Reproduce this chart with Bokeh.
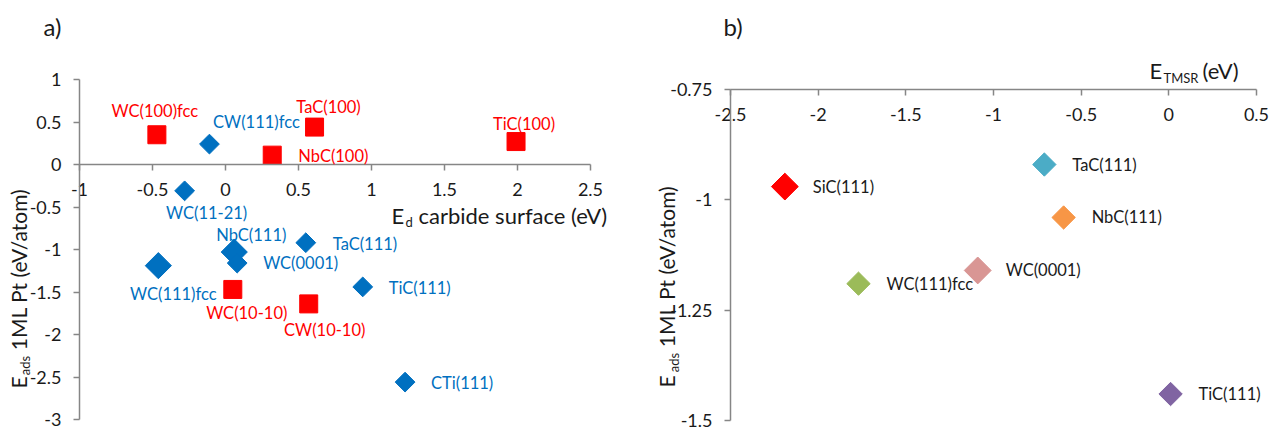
import math
from bokeh.plotting import figure
from bokeh.models import Range1d, LinearAxis, FixedTicker, ColumnDataSource, LabelSet, Label
from bokeh.layouts import row
from bokeh.core.properties import value
from bokeh.embed import file_html
from bokeh.resources import INLINE

# ---------------- data : panel a ----------------
a_sq_names = ["WC(100)fcc", "NbC(100)", "TaC(100)", "TiC(100)", "WC(10-10)", "CW(10-10)"]
a_sq_ed = [-0.47, 0.32, 0.61, 1.99, 0.05, 0.57]
a_sq_eads = [0.35, 0.11, 0.44, 0.27, -1.47, -1.64]

a_dia_names = ["CW(111)fcc", "WC(11-21)", "NbC(111)", "WC(0001)", "WC(111)fcc", "TaC(111)", "TiC(111)", "CTi(111)"]
a_dia_ed = [-0.11, -0.28, 0.06, 0.08, -0.46, 0.55, 0.94, 1.23]
a_dia_eads = [0.24, -0.31, -1.03, -1.16, -1.19, -0.92, -1.44, -2.56]

a_xticks = [-1, -0.5, 0, 0.5, 1, 1.5, 2, 2.5]
a_xtick_labels = ["-1", "-0.5", "0", "0.5", "1", "1.5", "2", "2.5"]
a_yticks = [-3, -2.5, -2, -1.5, -1, -0.5, 0, 0.5, 1]
a_ytick_labels = ["-3", "-2.5", "-2", "-1.5", "-1", "-0.5", "0", "0.5", "1"]

# ---------------- data : panel b ----------------
b_names = ["SiC(111)", "TaC(111)", "NbC(111)", "WC(0001)", "WC(111)fcc", "TiC(111)"]
b_etmsr = [-2.19, -0.71, -0.60, -1.09, -1.77, 0.01]
b_eads = [-0.97, -0.92, -1.04, -1.16, -1.19, -1.44]

b_xticks = [-2.5, -2, -1.5, -1, -0.5, 0, 0.5]
b_xtick_labels = ["-2.5", "-2", "-1.5", "-1", "-0.5", "0", "0.5"]
b_yticks = [-1.5, -1.25, -1, -0.75]
b_ytick_labels = ["-1.5", "-1.25", "-1", "-0.75"]

# ---------------- styles ----------------
FONT = "Lato"
GRAY = "#868686"
TXT = "#1a1a1a"
RED = "#FF0000"
BLUE = "#0070C0"
TICK_SIZE = "18px"
LAB_SIZE = "16.5px"
TITLE_SIZE = 22
YTITLE_SIZE = 21
SUB_SIZE = 13

a_dia_size = [14, 14, 18.5, 14, 18.5, 14, 14, 14]
b_colors = ["#FF0000", "#4BACC6", "#F79646", "#D99694", "#9BBB59", "#8064A2"]
b_size = [19, 16.5, 16.5, 19, 16.5, 16.5]

# label placement (screen px, +down) and alignment
a_sq_lab = [(-2, -24, "center"), (26, 1, "left"), (14, -20, "center"), (8, -18, "center"),
            (14, 24, "center"), (16, 26, "center")]
a_dia_lab = [(47, -22, "center"), (22, 22, "center"), (17, -17, "center"), (26, 0, "left"),
             (15, 28, "center"), (27, 1, "left"), (26, 1, "left"), (26, 1, "left")]

H = 430


class Panel:
    """maps page pixels to data for a figure whose frame covers its whole canvas"""

    def __init__(self, off, w, l, r, t, b, xt, yt):
        self.off, self.w, self.l, self.r, self.t, self.b = off, w, l, r, t, b
        self.x0, self.x1 = xt[0], xt[-1]
        self.y0, self.y1 = yt[0], yt[-1]

    def fx(self, px):
        return self.x0 + (px - self.l) * (self.x1 - self.x0) / (self.r - self.l)

    def fy(self, py):
        return self.y1 - (py - self.t) * (self.y1 - self.y0) / (self.b - self.t)

    def fig(self):
        p = figure(width=self.w, height=H,
                   x_range=Range1d(self.fx(self.off), self.fx(self.off + self.w)),
                   y_range=Range1d(self.fy(H), self.fy(0)),
                   output_backend="svg", toolbar_location=None,
                   x_axis_location=None, y_axis_location=None,
                   min_border_left=0, min_border_right=0, min_border_top=0, min_border_bottom=0)
        p.grid.visible = False
        p.outline_line_color = None
        p.background_fill_color = "white"
        p.border_fill_color = "white"
        return p


def style_axis(ax, ticks, labels):
    ax.ticker = FixedTicker(ticks=ticks)
    ax.bounds = (ticks[0], ticks[-1])
    ax.major_label_overrides = {t: l for t, l in zip(ticks, labels)}
    ax.axis_line_color = GRAY
    ax.axis_line_width = 1.5
    ax.major_tick_line_color = GRAY
    ax.major_tick_line_width = 1.5
    ax.major_tick_out = 6
    ax.major_tick_in = 0
    ax.minor_tick_line_color = None
    ax.major_label_text_font = FONT
    ax.major_label_text_font_size = TICK_SIZE
    ax.major_label_text_color = TXT
    ax.major_label_standoff = 12


def add_labels(p, xs, ys, names, layout, color):
    for align in ("center", "left"):
        idx = [i for i, l in enumerate(layout) if l[2] == align]
        if not idx:
            continue
        src = ColumnDataSource(dict(
            x=[xs[i] for i in idx], y=[ys[i] for i in idx], t=[names[i] for i in idx],
            dx=[layout[i][0] for i in idx], dy=[-layout[i][1] for i in idx]))
        p.add_layout(LabelSet(x="x", y="y", text="t", source=src, x_offset="dx", y_offset="dy",
                              text_align=align, text_baseline="middle",
                              text_font=value(FONT), text_font_size=value(LAB_SIZE),
                              text_color=color))


def add_text(p, pan, px, py, text, size, angle=0.0, align="left"):
    p.add_layout(Label(x=pan.fx(px), y=pan.fy(py), text=text, text_font=FONT,
                       text_font_size=f"{size}px", text_align=align, text_baseline="middle",
                       angle=angle, text_color=TXT))


ROT = math.pi / 2

# ================= panel a =================
A = Panel(0, 650, 79, 590, 79, 419, a_xticks, a_yticks)
pa = A.fig()

ya = LinearAxis(fixed_location=a_xticks[0])
style_axis(ya, a_yticks, a_ytick_labels)
pa.add_layout(ya, "left")
xa = LinearAxis(fixed_location=0)
style_axis(xa, a_xticks, a_xtick_labels)
pa.add_layout(xa, "below")

sq_src = ColumnDataSource(dict(x=a_sq_ed, y=a_sq_eads))
pa.scatter("x", "y", source=sq_src, marker="square", size=18, fill_color=RED, line_color=RED)
dia_src = ColumnDataSource(dict(x=a_dia_ed, y=a_dia_eads, s=a_dia_size))
pa.scatter("x", "y", source=dia_src, marker="square", angle=math.pi / 4, size="s",
           fill_color=BLUE, line_color=BLUE)

add_labels(pa, a_sq_ed, a_sq_eads, a_sq_names, a_sq_lab, RED)
add_labels(pa, a_dia_ed, a_dia_eads, a_dia_names, a_dia_lab, BLUE)

add_text(pa, A, 43, 26, "a)", 24)
# x title
add_text(pa, A, 391, 215, "E", TITLE_SIZE)
add_text(pa, A, 405, 221, "d", SUB_SIZE)
add_text(pa, A, 418, 215, "carbide surface (eV)", TITLE_SIZE)
# y title (rotated, centred pieces)
add_text(pa, A, 18, 382, "E", YTITLE_SIZE, angle=ROT, align="center")
add_text(pa, A, 24, 365, "ads", SUB_SIZE, angle=ROT, align="center")
add_text(pa, A, 18, 269, "1ML Pt (eV/atom)", YTITLE_SIZE, angle=ROT, align="center")

# ================= panel b =================
B = Panel(650, 621, 730, 1256, 89, 420, b_xticks, b_yticks)
pb = B.fig()

yb = LinearAxis(fixed_location=b_xticks[0])
style_axis(yb, b_yticks, b_ytick_labels)
pb.add_layout(yb, "left")
xb = LinearAxis(fixed_location=b_yticks[-1])
style_axis(xb, b_xticks, b_xtick_labels)
pb.add_layout(xb, "below")

b_src = ColumnDataSource(dict(x=b_etmsr, y=b_eads, c=b_colors, s=b_size))
pb.scatter("x", "y", source=b_src, marker="square", angle=math.pi / 4, size="s",
           fill_color="c", line_color="c")
add_labels(pb, b_etmsr, b_eads, b_names, [(28, 0, "left")] * len(b_names), TXT)

add_text(pb, B, 723, 26, "b)", 24)
add_text(pb, B, 1149, 70, "E", TITLE_SIZE)
add_text(pb, B, 1163, 77, "TMSR", SUB_SIZE)
add_text(pb, B, 1202, 70, "(eV)", TITLE_SIZE)
add_text(pb, B, 666, 381, "E", YTITLE_SIZE, angle=ROT, align="center")
add_text(pb, B, 673, 362, "ads", SUB_SIZE, angle=ROT, align="center")
add_text(pb, B, 666, 266, "1ML Pt (eV/atom)", YTITLE_SIZE, angle=ROT, align="center")

layout = row(pa, pb)
open("out.html", "w").write(file_html(layout, INLINE))
